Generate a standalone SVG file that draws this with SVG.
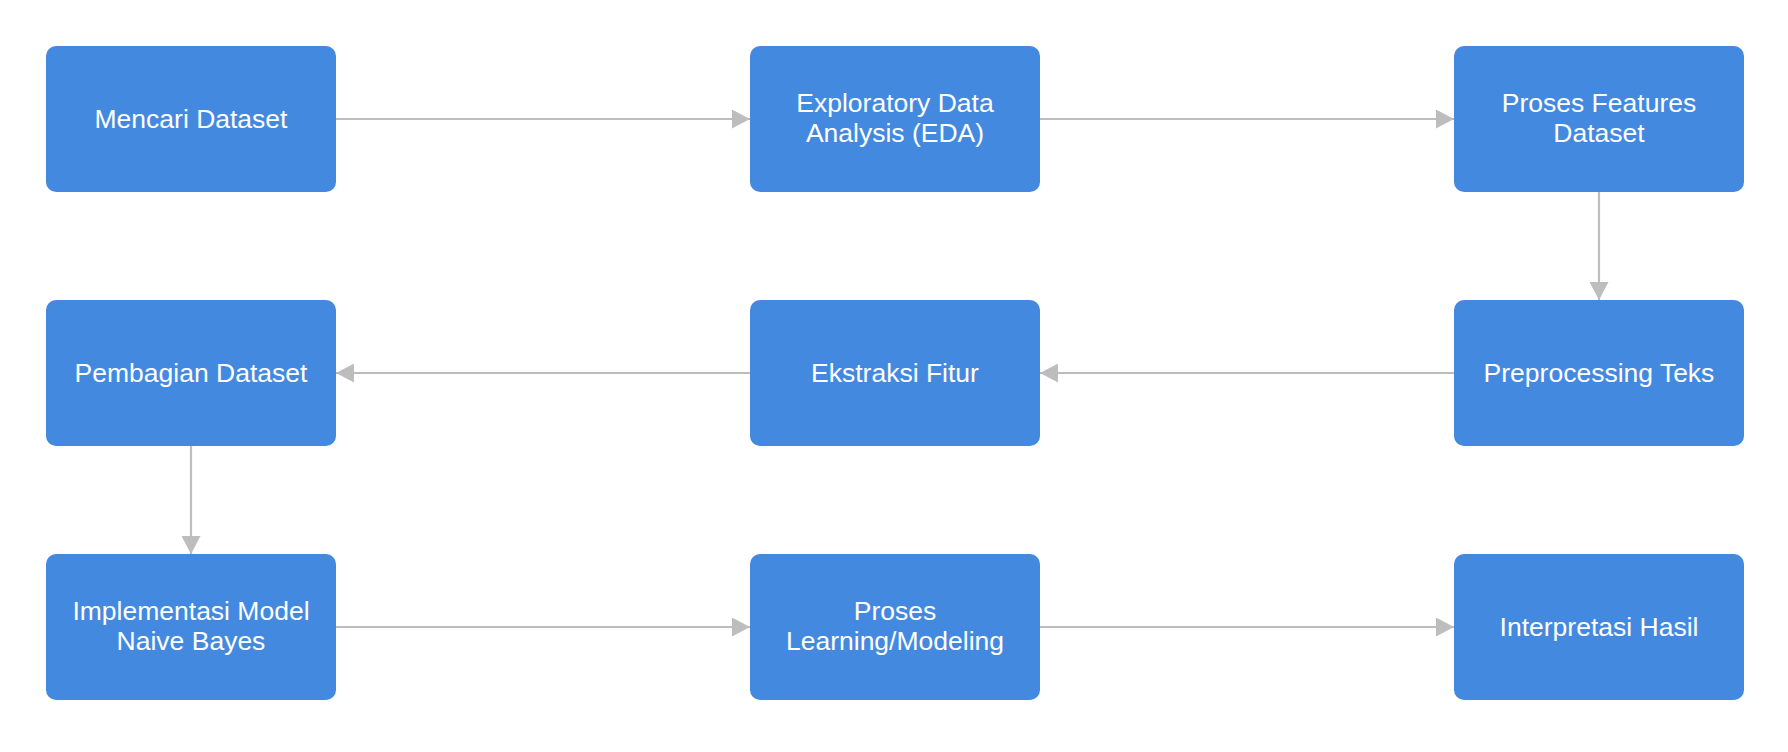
<svg xmlns="http://www.w3.org/2000/svg" width="1788" height="752" viewBox="0 0 1788 752">
<style>
.box{fill:#4489e0}
.lbl{font-family:"Liberation Sans",Arial,sans-serif;font-size:26.5px;fill:#ffffff;text-anchor:middle}
.conn{stroke:#bdbdbd;stroke-width:2.2;fill:none}
</style>
<defs>
<marker id="ah" viewBox="0 0 18 19" refX="18" refY="9.5" markerWidth="18" markerHeight="19" markerUnits="userSpaceOnUse" orient="auto">
<path d="M0,0 L18,9.5 L0,19 Z" fill="#bdbdbd"/>
</marker>
</defs>
<rect width="1788" height="752" fill="#ffffff"/>
<g id="connectors">
<line class="conn" x1="336" y1="119" x2="750" y2="119" marker-end="url(#ah)"/>
<line class="conn" x1="1040" y1="119" x2="1454" y2="119" marker-end="url(#ah)"/>
<line class="conn" x1="1599" y1="192" x2="1599" y2="300" marker-end="url(#ah)"/>
<line class="conn" x1="1454" y1="373" x2="1040" y2="373" marker-end="url(#ah)"/>
<line class="conn" x1="750" y1="373" x2="336" y2="373" marker-end="url(#ah)"/>
<line class="conn" x1="191" y1="446" x2="191" y2="554" marker-end="url(#ah)"/>
<line class="conn" x1="336" y1="627" x2="750" y2="627" marker-end="url(#ah)"/>
<line class="conn" x1="1040" y1="627" x2="1454" y2="627" marker-end="url(#ah)"/>
</g>
<g id="n1"><rect class="box" x="46" y="46" width="290" height="146" rx="10"/><text class="lbl" x="191" y="128">Mencari Dataset</text></g>
<g id="n2"><rect class="box" x="750" y="46" width="290" height="146" rx="10"/><text class="lbl" x="895" y="112">Exploratory Data</text><text class="lbl" x="895" y="142">Analysis (EDA)</text></g>
<g id="n3"><rect class="box" x="1454" y="46" width="290" height="146" rx="10"/><text class="lbl" x="1599" y="112">Proses Features</text><text class="lbl" x="1599" y="142">Dataset</text></g>
<g id="n4"><rect class="box" x="1454" y="300" width="290" height="146" rx="10"/><text class="lbl" x="1599" y="382">Preprocessing Teks</text></g>
<g id="n5"><rect class="box" x="750" y="300" width="290" height="146" rx="10"/><text class="lbl" x="895" y="382">Ekstraksi Fitur</text></g>
<g id="n6"><rect class="box" x="46" y="300" width="290" height="146" rx="10"/><text class="lbl" x="191" y="382">Pembagian Dataset</text></g>
<g id="n7"><rect class="box" x="46" y="554" width="290" height="146" rx="10"/><text class="lbl" x="191" y="620">Implementasi Model</text><text class="lbl" x="191" y="650">Naive Bayes</text></g>
<g id="n8"><rect class="box" x="750" y="554" width="290" height="146" rx="10"/><text class="lbl" x="895" y="620">Proses</text><text class="lbl" x="895" y="650">Learning/Modeling</text></g>
<g id="n9"><rect class="box" x="1454" y="554" width="290" height="146" rx="10"/><text class="lbl" x="1599" y="636">Interpretasi Hasil</text></g>
</svg>
